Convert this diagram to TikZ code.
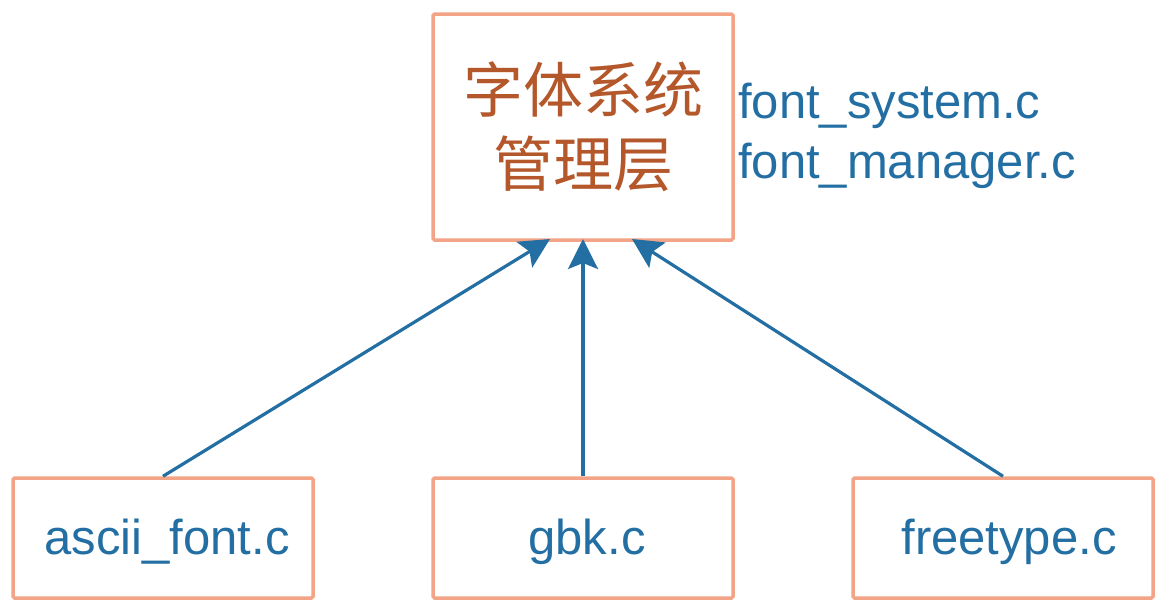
\documentclass[tikz,border=0pt]{standalone}
\usepackage{fontspec}
\setmainfont{Liberation Sans}
\newfontfamily\cjk{Noto Sans CJK SC}
\usetikzlibrary{arrows.meta}
\definecolor{boxc}{HTML}{F4A486}
\definecolor{bluec}{HTML}{236FA3}
\definecolor{brownc}{HTML}{B4572A}
\begin{document}
\begin{tikzpicture}[x=1pt,y=-1pt,
  box/.style={draw=boxc,line width=3.5pt,rounded corners=1.5pt,fill=white,inner sep=0pt},
  lbl/.style={text=bluec,font=\fontsize{49}{60}\selectfont},
  conn/.style={draw=bluec,line width=3.2pt,-{Stealth[length=30pt,width=30pt,inset=6pt]}}]
\useasboundingbox (0,0) rectangle (1163,613);
\node[box,minimum width=300pt,minimum height=226pt,align=center,text=brownc,
  font=\cjk\fontsize{60}{74}\selectfont] (top) at (583,127) {字体系统\\管理层};
\node[box,minimum width=300pt,minimum height=120pt] (a) at (163,538) {};
\node[box,minimum width=300pt,minimum height=120pt] (b) at (583,538) {};
\node[box,minimum width=300pt,minimum height=120pt] (c) at (1003,538) {};
\node[lbl,anchor=base] (ta) at (167,554) {ascii\_font.c};
\node[lbl,anchor=base] (tb) at (587,554) {gbk.c};
\node[lbl,anchor=base] (tc) at (1009,554) {freetype.c};
\node[lbl,anchor=base west,inner sep=0pt] (fs) at (738,118) {font\_system.c};
\node[lbl,anchor=base west,inner sep=0pt] (fm) at (738,178) {font\_manager.c};
\coordinate (pa) at (550,239);
\coordinate (pb) at (583,239);
\coordinate (pc) at (632,239);
\draw[conn] (a.north) -- (pa);
\draw[conn] (b.north) -- (pb);
\draw[conn] (c.north) -- (pc);
\end{tikzpicture}
\end{document}
